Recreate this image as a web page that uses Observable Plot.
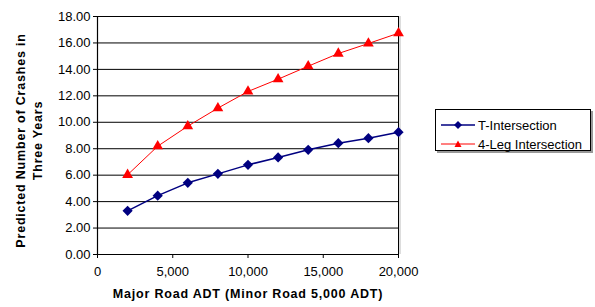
<!DOCTYPE html>
<html>
<head>
<meta charset="utf-8">
<script src="https://cdn.jsdelivr.net/npm/d3@7"></script>
<script src="https://cdn.jsdelivr.net/npm/@observablehq/plot@0.6"></script>
<style>
  html, body { margin: 0; padding: 0; background: #fff; }
  #wrap { position: relative; width: 595px; height: 307px; font-family: "Liberation Sans", Arial, sans-serif; }
  #legend { position: absolute; left: 435px; top: 109px; width: 154px; height: 40px; border: 1px solid #000; box-shadow: 2px 2px 0 #999; background: #fff; font-size: 13px; }
  .item { position: absolute; left: 5px; height: 14px; display: flex; align-items: center; }
  .item svg { display: block; }
  .item span { margin-left: 3px; color: #000; }
  .ttl { letter-spacing: 0.8px; }
</style>
</head>
<body>
<div id="wrap"></div>
<script>
const adt = [2000, 4000, 6000, 8000, 10000, 12000, 14000, 16000, 18000, 20000];
const tIntersection = [3.3, 4.45, 5.42, 6.1, 6.78, 7.34, 7.92, 8.42, 8.8, 9.25];
const fourLeg = [6.03, 8.19, 9.71, 11.07, 12.33, 13.26, 14.24, 15.2, 15.96, 16.74];
const seriesNames = ["T-Intersection", "4-Leg Intersection"];
const yTicks = [0, 2, 4, 6, 8, 10, 12, 14, 16, 18];
const xTicks = [0, 5000, 10000, 15000, 20000];
const yTitle = "Predicted Number of Crashes in\nThree Years";
const xTitle = "Major Road ADT (Minor Road 5,000 ADT)";

const tData = adt.map((x, i) => ({x, y: tIntersection[i]}));
const fData = adt.map((x, i) => ({x, y: fourLeg[i]}));

const chart = Plot.plot({
  width: 595,
  height: 307,
  marginLeft: 97,
  marginRight: 197,
  marginTop: 16,
  marginBottom: 53,
  style: {fontFamily: "'Liberation Sans', Arial, sans-serif", fontSize: "13px", color: "#000", background: "#fff"},
  x: {domain: [0, 20000], label: null},
  y: {domain: [0, 18], label: null},
  marks: [
    Plot.ruleY(yTicks, {stroke: "#000", strokeWidth: 1}),
    Plot.ruleX([20000], {stroke: "#000", strokeWidth: 1}),
    Plot.ruleX([20000], {stroke: "#bbb", strokeWidth: 1, dx: 1.5}),
    Plot.ruleX([0], {stroke: "#000", strokeWidth: 1.2}),
    Plot.ruleY([0], {stroke: "#000", strokeWidth: 1.2}),
    Plot.line(fData, {x: "x", y: "y", stroke: "#ff0000", strokeWidth: 1}),
    Plot.dot(fData, {x: "x", y: "y", symbol: "triangle", fill: "#ff0000", r: 4}),
    Plot.line(tData, {x: "x", y: "y", stroke: "#000080", strokeWidth: 1.5}),
    Plot.dot(tData, {x: "x", y: "y", symbol: "diamond2", fill: "#000080", r: 4.6}),
    Plot.axisX({ticks: xTicks, tickFormat: d3.format(","), tickSize: 4, tickPadding: 8, label: null, fontSize: 13}),
    Plot.axisY({ticks: yTicks, tickFormat: d3.format(".2f"), tickSize: 4, tickPadding: 3, label: null, fontSize: 13}),
    Plot.text([xTitle], {frameAnchor: "bottom", dy: 43, fontWeight: "bold", fontSize: 12.5, text: d => d, className: "ttl"}),
    Plot.text([yTitle], {frameAnchor: "left", dx: -69, dy: 5, rotate: -90, textAnchor: "middle", lineAnchor: "middle", fontWeight: "bold", fontSize: 12.5, lineHeight: 1.35, text: d => d, className: "ttl"})
  ]
});

document.getElementById("wrap").appendChild(chart);

const legend = document.createElement("div");
legend.id = "legend";
const items = [
  {name: seriesNames[0], color: "#000080", sym: "diamond", sw: 1.5},
  {name: seriesNames[1], color: "#ff0000", sym: "triangle", sw: 1}
];
items.forEach((it, i) => {
  const d = document.createElement("div");
  d.className = "item";
  d.style.top = (i === 0 ? 8 : 27) + "px";
  const marker = it.sym === "diamond"
    ? `<path d="M17,3 L21,7 L17,11 L13,7 Z" fill="${it.color}"/>`
    : `<path d="M17,3.5 L20.5,10 L13.5,10 Z" fill="${it.color}"/>`;
  d.innerHTML = `<svg width="34" height="14"><line x1="0" x2="34" y1="7" y2="7" stroke="${it.color}" stroke-width="${it.sw}"/>${marker}</svg><span>${it.name}</span>`;
  legend.appendChild(d);
});
document.getElementById("wrap").appendChild(legend);
</script>
</body>
</html>
